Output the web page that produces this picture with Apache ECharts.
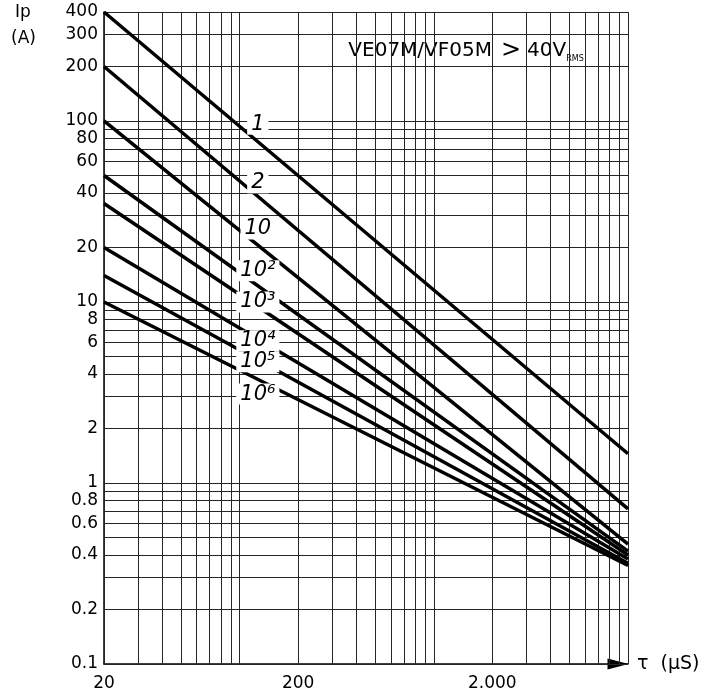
<!DOCTYPE html>
<html><head><meta charset="utf-8">
<script src="https://cdn.jsdelivr.net/npm/echarts@6/dist/echarts.min.js"></script>
<style>html,body{margin:0;padding:0;background:#fff}#c{width:721px;height:696px}</style>
</head><body><div id="c"></div>
<script>
// ---- data ----
const tauRange = [20, 10000];
const curveNames = ['1', '2', '10', '10²', '10³', '10⁴', '10⁵', '10⁶'];
const curveStart = [400, 200, 100, 50, 35, 20, 14, 10];       // Ip at tau = 20 µs
const curveEnd = [1.45, 0.72, 0.46, 0.42, 0.40, 0.38, 0.36, 0.35]; // Ip at tau = 10000 µs
const labelTau = [124, 124, 124, 124, 124, 124, 124, 124];
const labelIp = [96, 45.5, 25.3, 14.9, 10.0, 6.1, 4.67, 3.1];
const yGrid = [0.1, 0.2, 0.3, 0.4, 0.5, 0.6, 0.7, 0.8, 0.9, 1, 2, 3, 4, 5, 6, 7, 8, 9,
  10, 20, 30, 40, 50, 60, 70, 80, 90, 100, 200, 300, 400];
const yTickLabels = [0.1, 0.2, 0.4, 0.6, 0.8, 1, 2, 4, 6, 8, 10, 20, 40, 60, 80, 100, 200, 300, 400];
const xGrid = [20, 30, 40, 50, 60, 70, 80, 90, 100, 200, 300, 400, 500, 600, 700, 800, 900,
  1000, 2000, 3000, 4000, 5000, 6000, 7000, 8000, 9000, 10000];
const xTickValues = [20, 200, 2000];
const xTickTexts = ['20', '200', '2.000'];
const noteCorners = [[300, 300], [10000, 200]];
const noteParts = ['VE07M/VF05M', '>', '40V', 'RMS'];

// ---- chart ----
const FONT = 'DejaVu Sans';
const gridColor = '#262626';
const chart = echarts.init(document.getElementById('c'), null, { renderer: 'canvas' });

function yLine(v) {
  const i = yTickLabels.indexOf(v);
  return {
    yAxis: v,
    label: i >= 0 ? { show: true, position: 'start', distance: 6, formatter: String(v),
      color: '#000', fontSize: 17, fontFamily: FONT } : { show: false }
  };
}
function xLine(v) {
  const i = xTickValues.indexOf(v);
  return {
    xAxis: v,
    label: i >= 0 ? { show: true, position: 'start', distance: 11, formatter: xTickTexts[i],
      color: '#000', fontSize: 17, fontFamily: FONT } : { show: false }
  };
}
const edgeX = [noteCorners[0][0], tauRange[1]];
const mlBase = { silent: true, symbol: ['none', 'none'], animation: false,
  lineStyle: { color: gridColor, width: 1, type: 'solid' }, emphasis: { disabled: true } };

const series = [];
// vertical gridlines (below the note box)
series.push({ type: 'line', data: [], z: 1,
  markLine: Object.assign({}, mlBase, { data: xGrid.filter(v => edgeX.indexOf(v) < 0).map(xLine) }) });
// note box
series.push({ type: 'line', data: [], z: 2,
  markArea: { silent: true, animation: false, itemStyle: { color: '#fff' },
    label: { show: true, position: 'insideLeft', distance: 16, color: '#000',
      formatter: '{a|' + noteParts[0] + '}{g|' + noteParts[1] + '}{a|' + noteParts[2] + '}{s|' + noteParts[3] + '}',
      rich: {
        a: { fontSize: 20, fontFamily: FONT, color: '#000' },
        g: { fontSize: 24, fontFamily: FONT, color: '#000', padding: [0, 6, 0, 9] },
        s: { fontSize: 8, fontFamily: FONT, color: '#000', verticalAlign: 'bottom' }
      } },
    data: [[{ coord: noteCorners[0] }, { coord: noteCorners[1] }]] } });
// horizontal gridlines + box edge verticals
series.push({ type: 'line', data: [], z: 3,
  markLine: Object.assign({}, mlBase, { data: yGrid.map(yLine).concat(edgeX.map(xLine)) }) });
// curves
curveNames.forEach((n, i) => {
  series.push({ name: n, type: 'line', z: 5, symbol: 'none', animation: false,
    lineStyle: { color: '#000', width: 3.5 },
    data: [[tauRange[0], curveStart[i]], [tauRange[1], curveEnd[i]]] });
});
// curve labels
series.push({ type: 'scatter', z: 10, symbolSize: 0, animation: false, silent: true,
  itemStyle: { color: '#fff', opacity: 1 },
  label: { show: true, position: 'inside', formatter: p => curveNames[p.dataIndex],
    fontSize: 21, fontStyle: 'italic', fontFamily: FONT, color: '#000', opacity: 1,
    textBorderWidth: 0, textBorderColor: 'transparent',
    backgroundColor: '#fff', padding: [0, 4] },
  emphasis: { disabled: true },
  data: labelTau.map((t, i) => [t, labelIp[i]]) });

chart.setOption({
  animation: false,
  backgroundColor: '#fff',
  grid: { left: 104, right: 93, top: 12, bottom: 32, containLabel: false },
  xAxis: { type: 'log', logBase: 10, min: tauRange[0], max: tauRange[1],
    name: 'τ  (µS)', nameLocation: 'end', nameGap: 9,
    nameTextStyle: { fontSize: 19, fontFamily: FONT, color: '#000', align: 'left', verticalAlign: 'middle' },
    axisLine: { show: true, symbol: ['none', 'triangle'], symbolSize: [11, 21], symbolOffset: [0, -10],
      lineStyle: { color: '#000', width: 1.5 } },
    axisTick: { show: false }, axisLabel: { show: false }, splitLine: { show: false }, minorTick: { show: false } },
  yAxis: { type: 'log', logBase: 10, min: 0.1, max: 400,
    axisLine: { show: true, lineStyle: { color: '#000', width: 1.5 } },
    axisTick: { show: false }, axisLabel: { show: false }, splitLine: { show: false } },
  graphic: [
    { type: 'text', left: 15, top: 4, style: { text: 'Ip', fontSize: 17, fontFamily: FONT, fill: '#000' } },
    { type: 'text', left: 11, top: 30, style: { text: '(A)', fontSize: 17, fontFamily: FONT, fill: '#000' } }
  ],
  series: series
});
</script></body></html>
